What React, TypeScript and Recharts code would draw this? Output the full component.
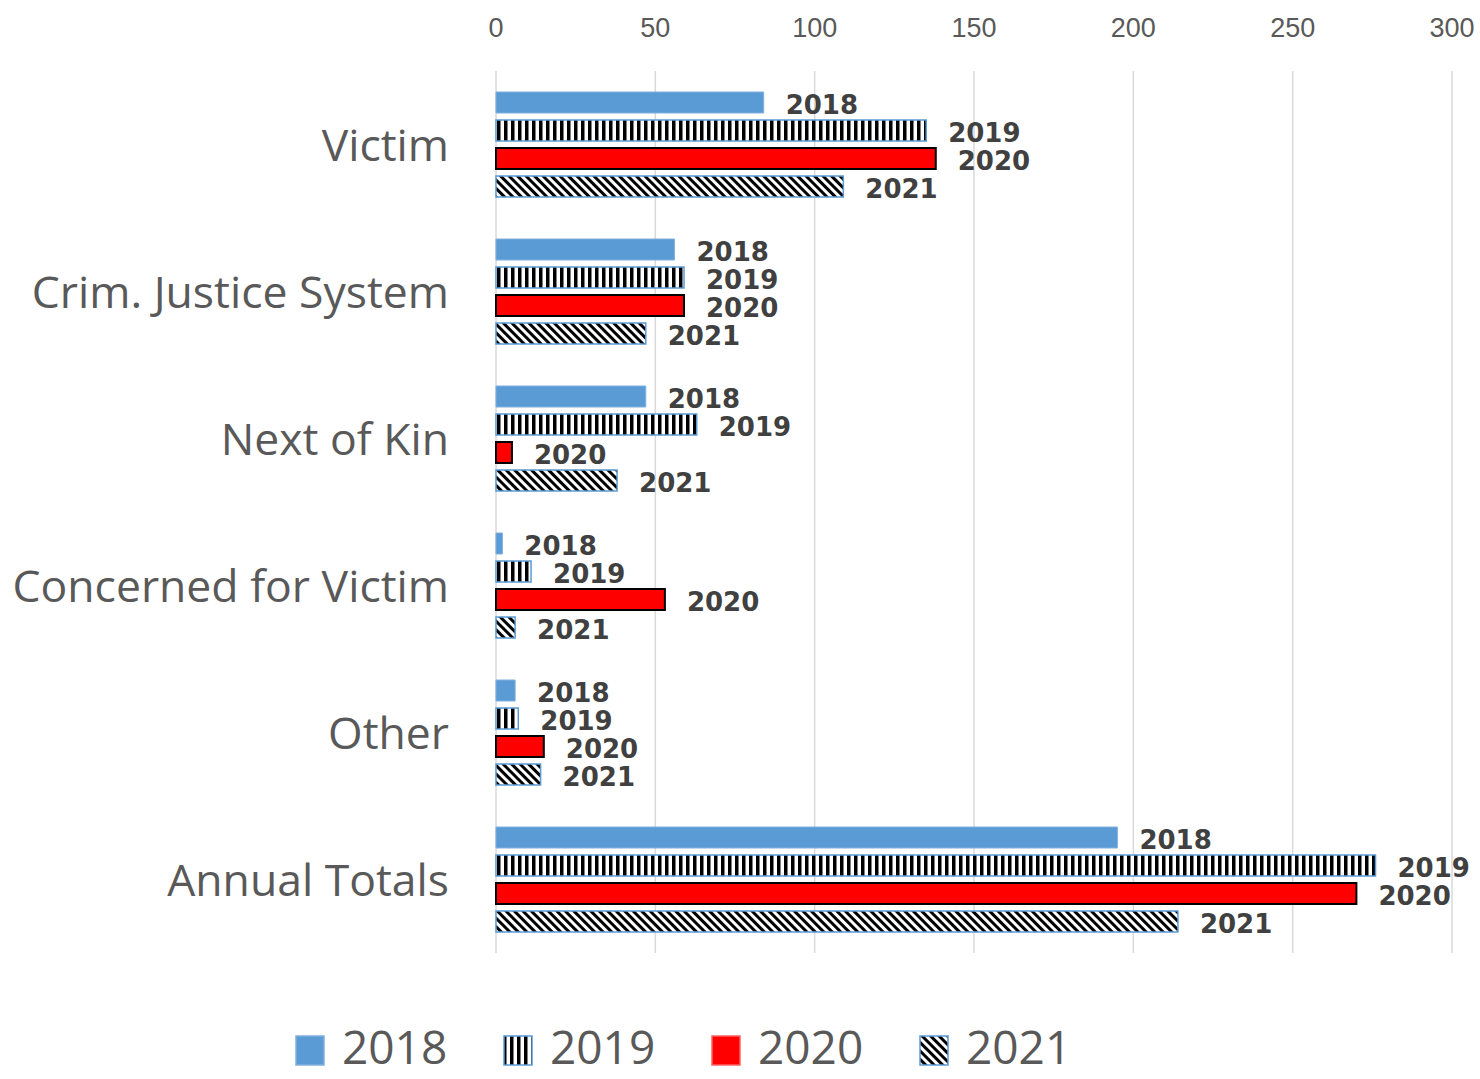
import React from "react";
import {
    BarChart,
    Bar,
    XAxis,
    YAxis,
    CartesianGrid,
    Legend,
    LabelList,
} from "recharts";

const categories = [
    "Victim",
    "Crim. Justice System",
    "Next of Kin",
    "Concerned for Victim",
    "Other",
    "Annual Totals",
];
const years = ["2018", "2019", "2020", "2021"];
const v2018 = [84, 56, 47, 2, 6, 195];
const v2019 = [135, 59, 63, 11, 7, 276];
const v2020 = [138, 59, 5, 53, 15, 270];
const v2021 = [109, 47, 38, 6, 14, 214];
const xTicks = [0, 50, 100, 150, 200, 250, 300];

const data = categories.map((name, i) => ({
    name,
    "2018": v2018[i],
    "2019": v2019[i],
    "2020": v2020[i],
    "2021": v2021[i],
}));

const fills: Record<string, string> = {
    "2018": "#5b9bd5",
    "2019": "url(#stripesV)",
    "2020": "#ff0000",
    "2021": "url(#stripesD)",
};
const strokes: Record<string, string> = {
    "2018": "#7fb0de",
    "2019": "#5b9bd5",
    "2020": "#000000",
    "2021": "#5b9bd5",
};
const strokeWidths: Record<string, number> = {
    "2018": 1,
    "2019": 1.5,
    "2020": 2,
    "2021": 1.5,
};

const gray = "#595959";

function SeriesLabel(year: string) {
    return function Label(props: any) {
        const { x, y, width, height } = props;
        return (
            <text
                x={x + width + 22}
                y={y + height / 2 + 2}
                dy="0.36em"
                fontFamily="DejaVu Sans"
                fontWeight="bold"
                fontSize={26}
                fill="#404040"
            >
                {year}
            </text>
        );
    };
}

function CategoryTick({ x, y, payload }: any) {
    return (
        <text
            x={x}
            y={y}
            dy="0.36em"
            textAnchor="end"
            fontFamily="Open Sans"
            fontSize={44.5}
            fill={gray}
        >
            {payload.value}
        </text>
    );
}

// legend kept inside the frame: text box bottom must stay above 1079
function CustomLegend() {
    return (
        <div
            style={{
                display: "flex",
                alignItems: "flex-start",
                paddingLeft: 295,
                paddingTop: 62,
                height: 126,
                boxSizing: "border-box",
            }}
        >
            {years.map((year) => (
                <div
                    key={year}
                    style={{ display: "flex", alignItems: "flex-start", width: 208 }}
                >
                    <svg width={30} height={31} style={{ marginRight: 17, marginTop: 20 }}>
                        <rect
                            x={1}
                            y={1}
                            width={28}
                            height={29}
                            fill={fills[year]}
                            stroke={year === "2020" ? "#ff6060" : strokes[year]}
                            strokeWidth={1.5}
                        />
                    </svg>
                    <span
                        style={{
                            fontFamily: "Open Sans",
                            fontSize: 46,
                            lineHeight: "normal",
                            color: gray,
                        }}
                    >
                        {year}
                    </span>
                </div>
            ))}
        </div>
    );
}

export default function App() {
    return (
        <div
            style={{
                position: "absolute",
                left: 0,
                top: 0,
                width: 1480,
                height: 1079,
                background: "#fff",
            }}
        >
            <BarChart
                width={1480}
                height={1079}
                data={data}
                layout="vertical"
                margin={{ top: 3, right: 28, left: 0, bottom: 0 }}
                barSize={21}
                barGap={7}
            >
                <defs>
                    <pattern
                        id="stripesV"
                        patternUnits="userSpaceOnUse"
                        width={7}
                        height={10}
                    >
                        <rect width={7} height={10} fill="#fff" />
                        <rect width={3.5} height={10} fill="#000" />
                    </pattern>
                    <pattern
                        id="stripesD"
                        patternUnits="userSpaceOnUse"
                        width={6}
                        height={10}
                        patternTransform="rotate(-45)"
                    >
                        <rect width={6} height={10} fill="#fff" />
                        <rect width={3} height={10} fill="#000" />
                    </pattern>
                </defs>
                <CartesianGrid
                    horizontal={false}
                    stroke="#d9d9d9"
                    strokeWidth={1.5}
                />
                <XAxis
                    type="number"
                    orientation="top"
                    domain={[0, 300]}
                    ticks={xTicks}
                    height={68}
                    axisLine={false}
                    tickLine={false}
                    tickSize={0}
                    tickMargin={34}
                    tick={{ fill: gray, fontSize: 27, fontFamily: "Liberation Sans" }}
                    interval={0}
                />
                <YAxis
                    type="category"
                    dataKey="name"
                    width={496}
                    axisLine={false}
                    tickLine={false}
                    tickSize={0}
                    tickMargin={47}
                    tick={<CategoryTick />}
                    interval={0}
                />
                <Legend
                    verticalAlign="bottom"
                    height={126}
                    content={<CustomLegend />}
                />
                {years.map((year) => (
                    <Bar
                        key={year}
                        dataKey={year}
                        fill={fills[year]}
                        stroke={strokes[year]}
                        strokeWidth={strokeWidths[year]}
                        isAnimationActive={false}
                    >
                        <LabelList dataKey={year} content={SeriesLabel(year)} />
                    </Bar>
                ))}
            </BarChart>
        </div>
    );
}
